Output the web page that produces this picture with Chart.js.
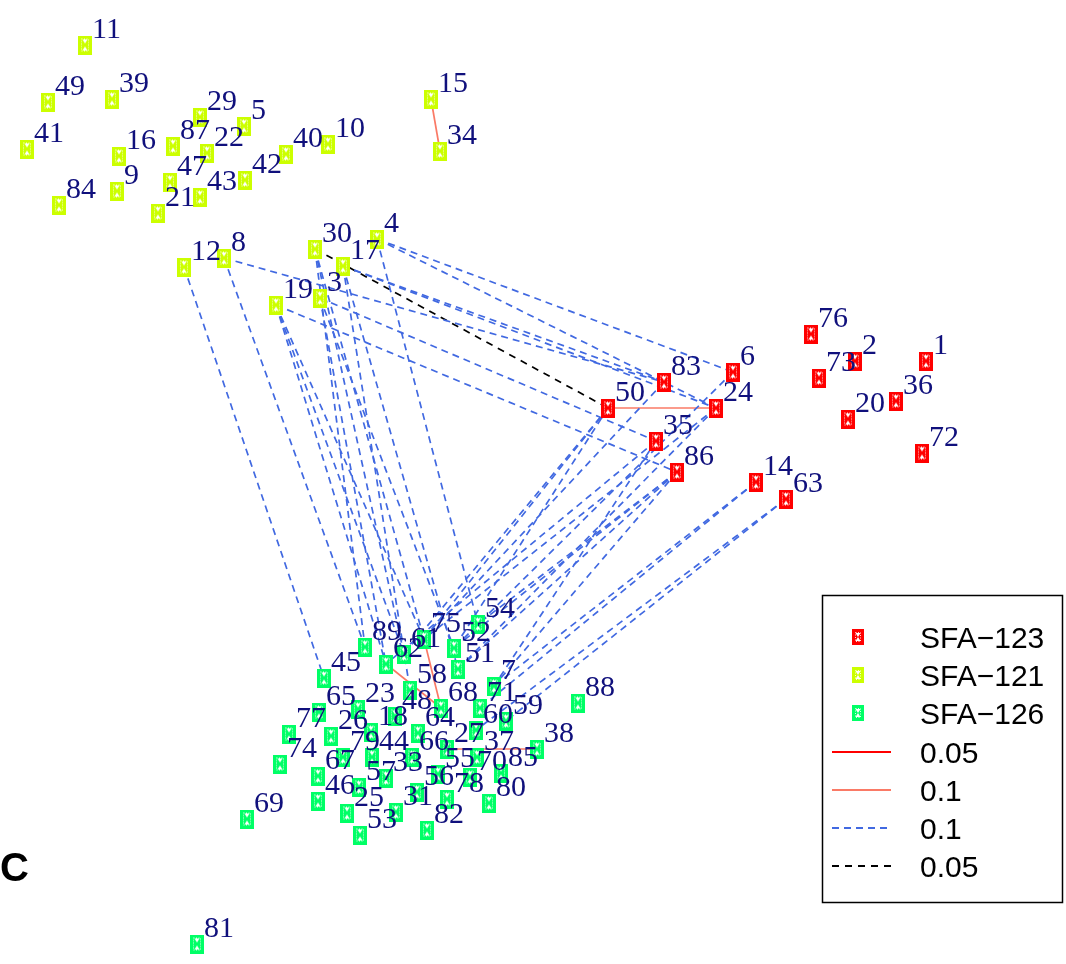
<!DOCTYPE html>
<html>
<head>
<meta charset="utf-8">
<script src="https://cdn.jsdelivr.net/npm/chart.js@4.4.1/dist/chart.umd.min.js"></script>
<style>
html,body{margin:0;padding:0;background:#fff;overflow:hidden}
canvas{display:block}
</style>
</head>
<body>
<canvas id="net" width="1066" height="964"></canvas>
<script>
// Network layout: node ids and their layout coordinates, one set per group
const ids123 = [1, 2, 6, 14, 20, 24, 35, 36, 50, 63, 72, 73, 76, 83, 86];
const x123   = [926, 855, 733, 756, 848, 716, 656, 896, 608, 786, 922, 819, 811, 664, 677];
const y123   = [361, 361, 372, 482, 419, 408, 441, 401, 408, 499, 453, 378, 334, 382, 472];

const ids121 = [11, 49, 39, 41, 16, 87, 29, 22, 5, 40, 10, 47, 43, 42, 9, 84, 21, 15, 34, 12, 8, 30, 4, 17, 19, 3];
const x121   = [85, 48, 112, 27, 119, 173, 200, 207, 244, 286, 328, 170, 200, 245, 117, 59, 158, 431, 440, 184, 224, 315, 377, 343, 276, 320];
const y121   = [45, 102, 99, 149, 156, 146, 117, 153, 126, 154, 144, 182, 197, 180, 191, 205, 213, 99, 151, 267, 258, 249, 239, 266, 305, 298];

const ids126 = [89, 62, 61, 75, 52, 54, 51, 45, 23, 65, 77, 26, 74, 79, 18, 48, 44, 67, 46, 57, 33, 66, 25, 53, 31, 56, 55, 78, 82, 70, 80, 85, 38, 88, 37, 27, 60, 59, 71, 7, 68, 64, 69, 81, 58];
const x126   = [365, 386, 404, 424, 454, 478, 458, 324, 358, 319, 289, 331, 280, 343, 371, 395, 372, 318, 318, 359, 386, 412, 347, 360, 396, 417, 438, 447, 427, 470, 489, 501, 537, 578, 477, 447, 476, 506, 480, 494, 441, 418, 247, 197, 410];
const y126   = [647, 664, 654, 639, 648, 624, 669, 678, 709, 712, 734, 736, 764, 757, 732, 716, 757, 776, 801, 787, 778, 757, 813, 835, 812, 792, 774, 799, 830, 777, 803, 773, 749, 703, 757, 749, 730, 721, 708, 686, 708, 733, 819, 944, 690];

const groupNames  = ['SFA\u2212123', 'SFA\u2212121', 'SFA\u2212126'];
const groupColors = ['#ff0000', '#ccff00', '#00ff66'];

// Edges, as from/to node ids, one pair of lists per edge type
const blueFrom = [4, 8, 17, 3, 19, 17, 4,
                  12, 8, 19, 19, 30, 30, 30, 3, 3, 17, 17, 4, 19,
                  50, 50, 50, 83, 24, 24, 6, 35, 86, 86, 86, 86, 35, 14, 14, 63, 63];
const blueTo   = [6, 83, 24, 35, 86, 83, 24,
                  45, 89, 62, 61, 89, 75, 61, 62, 52, 58, 51, 54, 75,
                  61, 75, 52, 75, 75, 51, 52, 62, 52, 54, 51, 7, 7, 7, 71, 59, 60];
const salmonFrom = [15, 50, 62, 75, 27];
const salmonTo   = [34, 24, 68, 68, 38];
const blackFrom  = [30];
const blackTo    = [50];

const legendLabels = ['SFA\u2212123', 'SFA\u2212121', 'SFA\u2212126', '0.05', '0.1', '0.1', '0.05'];
const panelLetter = 'C';

const COL_RED = '#ff0000', COL_SALMON = '#fa7a66', COL_BLUE = '#4169e1', COL_BLACK = '#000000';
const LABEL_COLOR = '#10107c';

// lookup of node positions
const nodePos = {};
[[ids123, x123, y123], [ids121, x121, y121], [ids126, x126, y126]].forEach(([ids, xs, ys]) => {
  ids.forEach((id, i) => { nodePos[id] = {x: xs[i], y: ys[i]}; });
});

function makeMarker(color, w, h) {
  const c = document.createElement('canvas');
  c.width = w; c.height = h;
  const g = c.getContext('2d');
  g.fillStyle = color;
  g.fillRect(0, 0, w, h);
  g.strokeStyle = 'rgba(255,255,255,0.85)';
  g.lineWidth = 1;
  g.setLineDash([1, 1.5]);
  g.strokeRect(3.5, 3.5, w - 7, h - 7);
  g.setLineDash([]);
  g.fillStyle = '#ffffff';
  g.beginPath(); g.moveTo(w / 2 - 2.5, 4); g.lineTo(w / 2 + 2.5, 4); g.lineTo(w / 2, 8); g.closePath(); g.fill();
  g.beginPath(); g.moveTo(w / 2 - 2.5, h - 4); g.lineTo(w / 2 + 2.5, h - 4); g.lineTo(w / 2, h - 8); g.closePath(); g.fill();
  return c;
}

const markers = groupColors.map(c => makeMarker(c, 14, 19));
const legendMarkers = groupColors.map(c => makeMarker(c, 12, 16));

function edgeDatasets(from, to, color, dash) {
  return from.map((f, i) => ({
    data: [nodePos[f], nodePos[to[i]]],
    showLine: true,
    borderColor: color,
    borderWidth: 1.7,
    borderDash: dash,
    pointRadius: 0,
    pointHoverRadius: 0,
    fill: false,
    order: 2
  }));
}

const datasets = [];
datasets.push(...edgeDatasets(blueFrom, blueTo, COL_BLUE, [7, 5]));
datasets.push(...edgeDatasets(salmonFrom, salmonTo, COL_SALMON, []));
datasets.push(...edgeDatasets(blackFrom, blackTo, COL_BLACK, [7, 6]));

[[ids123, x123, y123], [ids121, x121, y121], [ids126, x126, y126]].forEach(([ids, xs, ys], gi) => {
  datasets.push({
    label: groupNames[gi],
    data: ids.map((id, i) => ({x: xs[i], y: ys[i]})),
    nodeLabels: ids,
    pointStyle: markers[gi],
    pointRadius: 7,
    showLine: false,
    order: 1
  });
});

const overlay = {
  id: 'overlay',
  afterDatasetsDraw(chart) {
    const ctx = chart.ctx;
    ctx.save();
    // vertex labels
    ctx.font = '30px "Liberation Serif", "DejaVu Serif", serif';
    ctx.fillStyle = LABEL_COLOR;
    ctx.textAlign = 'left';
    ctx.textBaseline = 'alphabetic';
    chart.data.datasets.forEach((ds, i) => {
      if (!ds.nodeLabels) return;
      chart.getDatasetMeta(i).data.forEach((el, j) => {
        ctx.fillText(String(ds.nodeLabels[j]), el.x + 7, el.y - 7);
      });
    });

    // legend box
    const bx = 822, by = 595, bw = 240, bh = 307;
    ctx.fillStyle = '#ffffff';
    ctx.fillRect(bx, by, bw, bh);
    ctx.strokeStyle = '#000';
    ctx.lineWidth = 1.5;
    ctx.strokeRect(bx + 0.5, by + 0.5, bw, bh);

    const rowY = [637, 675, 713, 752, 790, 828, 866];
    const lineStyles = [
      {c: COL_RED, d: []}, {c: COL_SALMON, d: []}, {c: COL_BLUE, d: [7, 5]}, {c: COL_BLACK, d: [7, 6]}
    ];
    ctx.font = '30px "Liberation Sans", Arial, sans-serif';
    legendLabels.forEach((t, i) => {
      const y = rowY[i];
      if (i < 3) {
        ctx.drawImage(legendMarkers[i], 852, y - 8);
      } else {
        const s = lineStyles[i - 3];
        ctx.strokeStyle = s.c;
        ctx.lineWidth = 1.8;
        ctx.setLineDash(s.d);
        ctx.beginPath();
        ctx.moveTo(832, y);
        ctx.lineTo(891, y);
        ctx.stroke();
        ctx.setLineDash([]);
      }
      ctx.fillStyle = '#000';
      ctx.fillText(t, 920, y + 11);
    });

    // panel letter
    ctx.font = 'bold 40px "Liberation Sans", Arial, sans-serif';
    ctx.fillText(panelLetter, 0, 881);
    ctx.restore();
  }
};

new Chart(document.getElementById('net'), {
  type: 'scatter',
  data: {datasets},
  options: {
    responsive: false,
    animation: false,
    events: [],
    layout: {padding: 0, autoPadding: false},
    scales: {
      x: {type: 'linear', min: 0, max: 1066, display: false},
      y: {type: 'linear', min: 0, max: 964, reverse: true, display: false}
    },
    plugins: {legend: {display: false}, tooltip: {enabled: false}}
  },
  plugins: [overlay]
});
</script>
</body>
</html>
